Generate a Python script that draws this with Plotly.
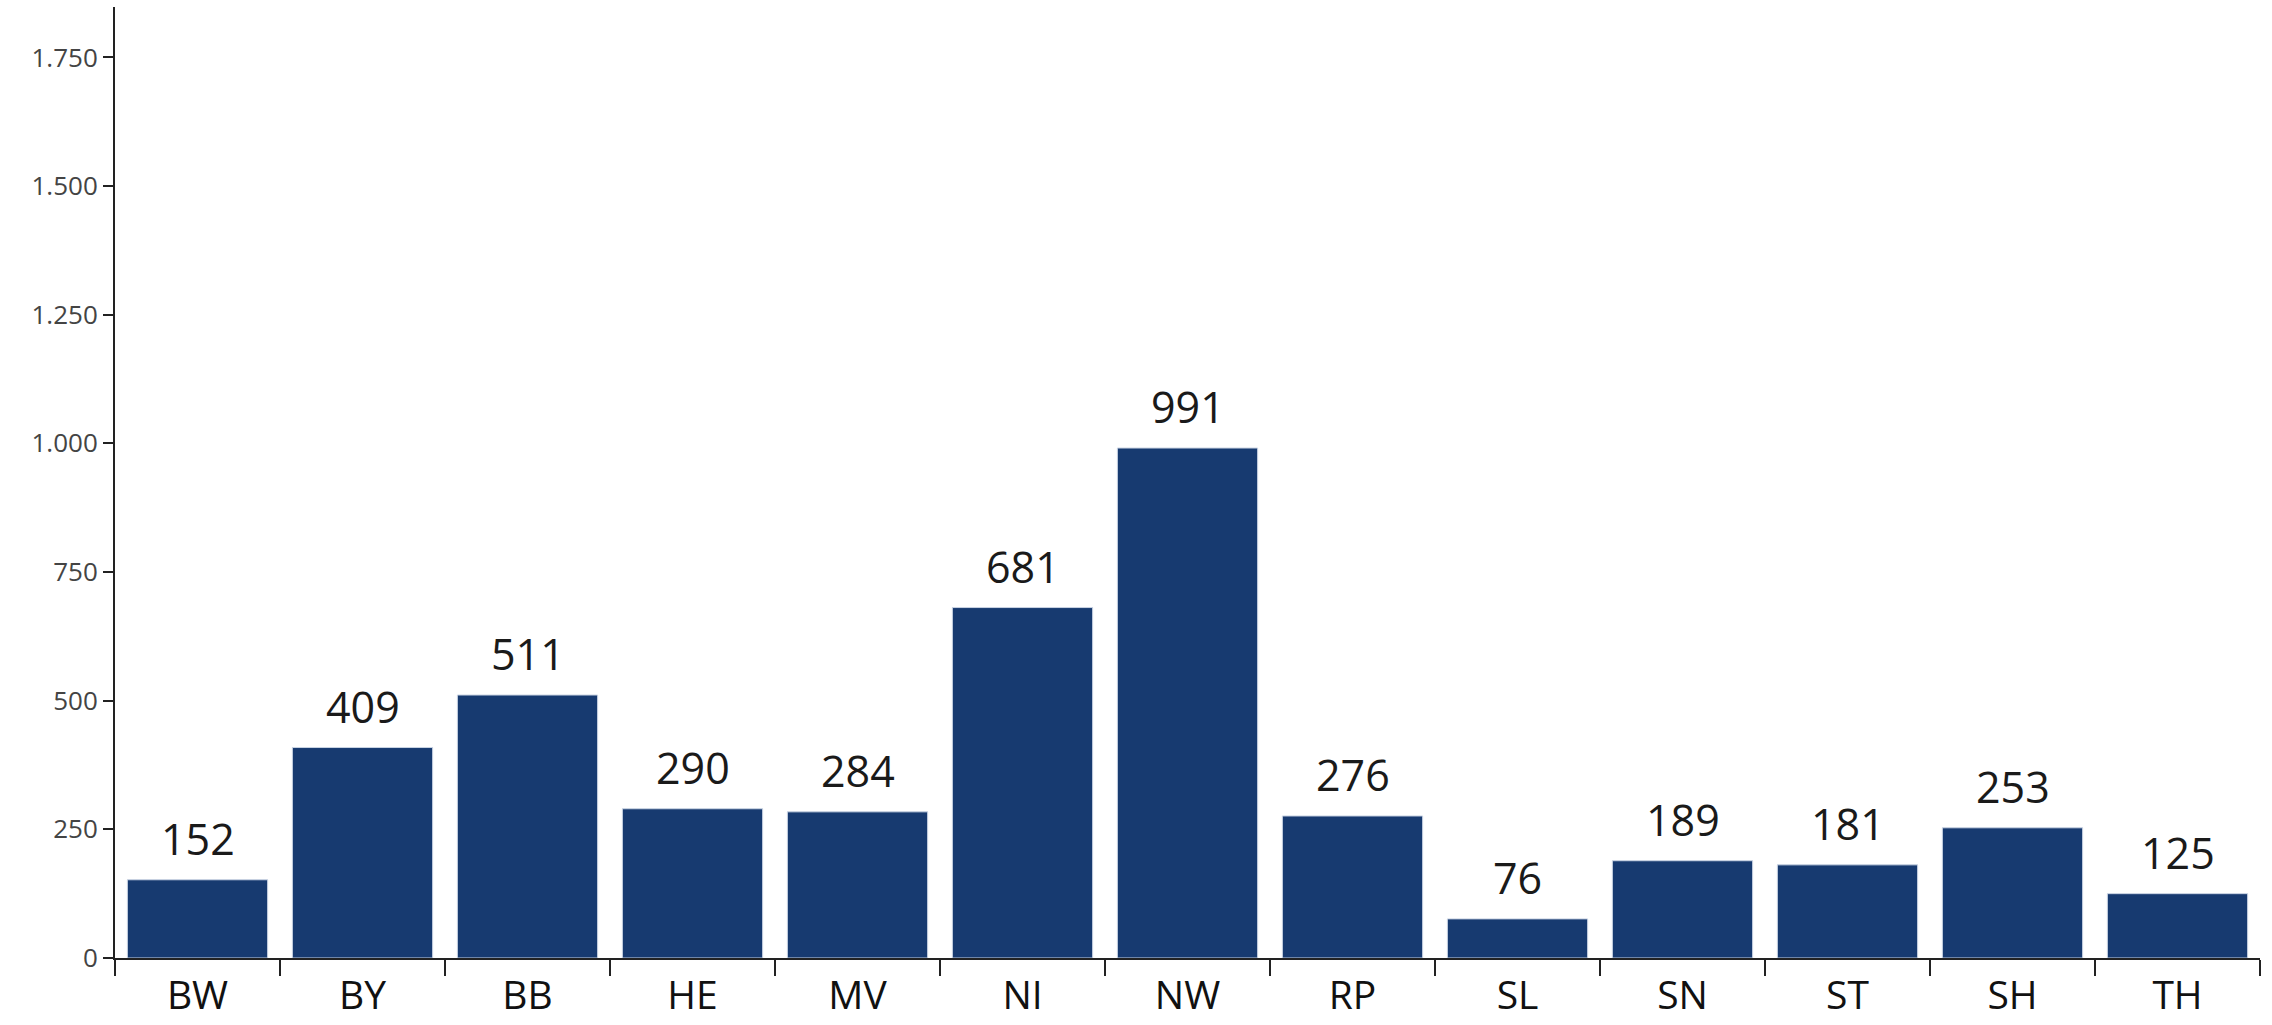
import plotly.graph_objects as go

laender = ["BW", "BY", "BB", "HE", "MV", "NI", "NW", "RP", "SL", "SN", "ST", "SH", "TH"]
werte = [152, 409, 511, 290, 284, 681, 991, 276, 76, 189, 181, 253, 125]
y_ticks = [0, 250, 500, 750, 1000, 1250, 1500, 1750]

fig = go.Figure(go.Bar(
    x=laender, y=werte,
    marker=dict(color="#173A70", line=dict(color="#C9D3E3", width=1)),
    cliponaxis=False,
))

# Werte über den Balken
for land, wert in zip(laender, werte):
    fig.add_annotation(
        x=land, y=wert, text=str(wert), showarrow=False,
        yanchor="bottom", yshift=10,
        font=dict(size=43, color="#1a1a1a", family="Open Sans"),
    )

fig.update_layout(
    width=2272, height=1025,
    margin=dict(l=115, r=12, t=7, b=67),
    plot_bgcolor="white", paper_bgcolor="white",
    separators=",.",
    bargap=0.15,
    showlegend=False,
    font=dict(family="Open Sans", color="#222"),
)
fig.update_xaxes(
    automargin=False,
    showline=True, linecolor="#222", linewidth=2,
    ticks="outside", tickson="boundaries", ticklen=16, tickwidth=2, tickcolor="#222",
    ticklabelstandoff=2,
    tickfont=dict(size=39, color="#111"), showgrid=False,
)
fig.update_yaxes(
    automargin=False,
    range=[0, 1848], tickvals=y_ticks, tickformat=",d",
    showline=True, linecolor="#222", linewidth=2,
    ticks="outside", ticklen=10, tickwidth=2, tickcolor="#222",
    tickfont=dict(size=26, color="#444"), showgrid=False, zeroline=False,
)

fig.write_html("out.html", config={"displayModeBar": False},
               post_script="document.body.style.margin='0';")
